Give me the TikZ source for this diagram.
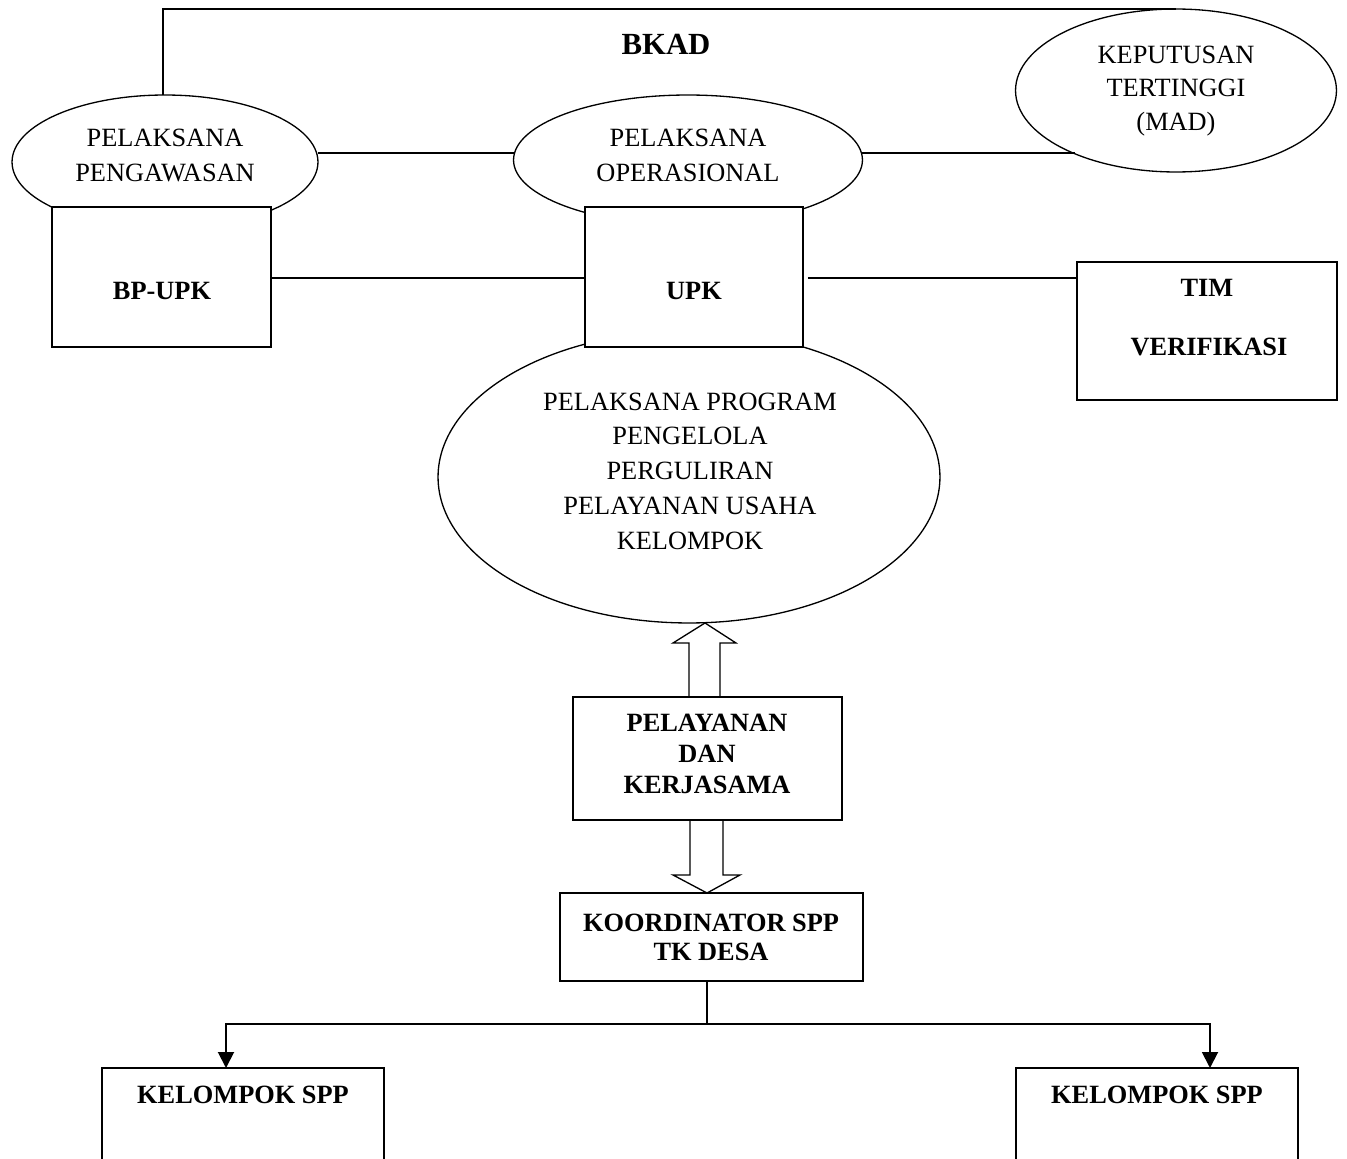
\documentclass[tikz,border=0pt]{standalone}
\usepackage{fontspec}
\setmainfont{Liberation Serif}
\usetikzlibrary{shapes.geometric,arrows.meta,calc}
\begin{document}
\begin{tikzpicture}[x=0.02cm,y=-0.02cm,
  every node/.style={align=center, inner sep=0pt, outer sep=0pt},
  oval/.style={draw, ellipse, line width=0.75pt},
  box/.style={draw, fill=white, line width=0.75pt, anchor=north west},
  lbl/.style={font=\fontsize{15}{19.8}\selectfont},
  blbl/.style={font=\fontsize{15}{19.8}\selectfont\bfseries},
  link/.style={line width=0.75pt},
  arr/.style={line width=1.1pt, -{Triangle[length=0.32cm,width=0.32cm]}},
  hollow/.style={line width=0.75pt, line join=miter}]
\clip (0,0) rectangle (1347,1159);
\fill[white] (0,0) rectangle (1347,1159);

% ellipses
\node[oval, minimum width=6.12cm, minimum height=2.68cm] (peng) at (165,162) {};
\node[oval, minimum width=6.98cm, minimum height=2.6cm] (oper) at (688,160) {};
\node[oval, minimum width=6.42cm, minimum height=3.26cm] (kep) at (1176,90.5) {};
\node[oval, minimum width=10.04cm, minimum height=5.84cm] (big) at (689,477) {};

% boxes
\node[box, minimum width=4.38cm, minimum height=2.8cm] (bpupk) at (52,207) {};
\node[box, minimum width=4.36cm, minimum height=2.8cm] (upk) at (585,207) {};
\node[box, minimum width=5.2cm, minimum height=2.76cm] (tim) at (1077,262) {};
\node[box, minimum width=5.38cm, minimum height=2.46cm] (pel) at (573,697) {};
\node[box, minimum width=6.06cm, minimum height=1.76cm] (koor) at (560,893) {};
\node[box, minimum width=5.64cm, minimum height=2.4cm] (kel1) at (102,1068) {};
\node[box, minimum width=5.64cm, minimum height=2.4cm] (kel2) at (1016,1068) {};

% texts
\node[font=\fontsize{17.5}{21}\selectfont\bfseries] (bkad) at (666,44) {BKAD};
\node[lbl] (pengT) at (165,155.5) {PELAKSANA\\PENGAWASAN};
\node[lbl] (operT) at (688,155.5) {PELAKSANA\\OPERASIONAL};
\node[lbl, font=\fontsize{15}{19.3}\selectfont] (kepT) at (1176,91) {KEPUTUSAN\\TERTINGGI\\(MAD)};
\node[lbl] (bigT) at (690,471) {PELAKSANA PROGRAM\\PENGELOLA\\PERGULIRAN\\PELAYANAN USAHA\\KELOMPOK};
\node[blbl] (bpupkT) at (162,291) {BP-UPK};
\node[blbl] (upkT) at (694,291) {UPK};
\node[blbl] (timT) at (1207,288) {TIM};
\node[blbl] (verT) at (1209,347) {VERIFIKASI};
\node[blbl, font=\fontsize{15}{17.6}\selectfont\bfseries] (pelT) at (707,754) {PELAYANAN\\DAN\\KERJASAMA};
\node[blbl, font=\fontsize{15}{16.6}\selectfont\bfseries] (koorT) at (711,937.5) {KOORDINATOR SPP\\TK DESA};
\node[blbl] (kel1T) at (243,1095) {KELOMPOK SPP};
\node[blbl] (kel2T) at (1157,1095) {KELOMPOK SPP};

% helper coordinates
\coordinate (yA) at (0,153);
\coordinate (yB) at (0,278);
\coordinate (ux) at (705,0);
\coordinate (dnx) at (707,0);
\coordinate (junc) at (707,1024);

% connectors
\draw[link] ($(peng.north)+(-2,0)$) |- (kep.north);
\draw[link] (peng.east |- yA) -- (oper.west |- yA);
\draw[link] (oper.east |- yA) -- (kep.212 |- yA);
\draw[link] (bpupk.east |- yB) -- (upk.west |- yB);
\draw[link] ($(upk.east |- yB)+(5,0)$) -- (tim.west |- yB);

% hollow arrows
\draw[hollow] ($(pel.north -| ux)+(-16,0)$) -- ++(0,-54) -- ++(-16,0) -- (big.south -| ux)
  -- ($(pel.north -| ux)+(31,-54)$) -- ++(-16,0) -- ($(pel.north -| ux)+(15,0)$);
\draw[hollow] ($(pel.south -| dnx)+(-17,0)$) -- ++(0,55) -- ++(-17,0) -- (koor.north -| dnx)
  -- ($(pel.south -| dnx)+(33,55)$) -- ++(-17,0) -- ($(pel.south -| dnx)+(16,0)$);

% bottom branches
\draw[link] (koor.south -| junc) -- (junc);
\draw[arr] (junc) -| ($(kel1.north west)+(124,0)$);
\draw[arr] (junc) -| ($(kel2.north west)+(194,0)$);
\end{tikzpicture}
\end{document}
